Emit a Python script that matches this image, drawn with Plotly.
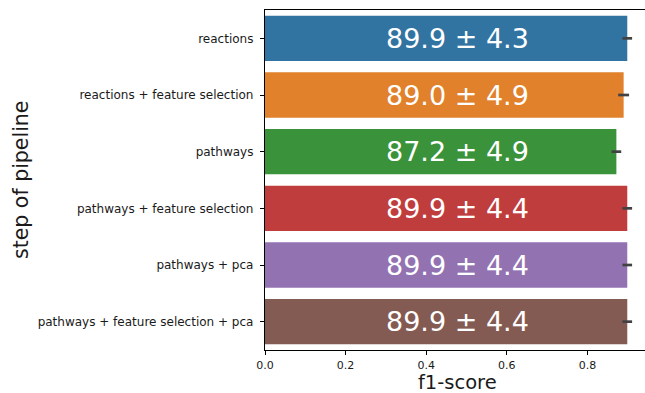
import plotly.graph_objects as go

# Pipeline steps, top to bottom
steps = [
    "reactions",
    "reactions + feature selection",
    "pathways",
    "pathways + feature selection",
    "pathways + pca",
    "pathways + feature selection + pca",
]
# Mean f1-score per step and bootstrapped CI half-width
f1_mean = [0.899, 0.890, 0.872, 0.899, 0.899, 0.899]
f1_ci = [0.012, 0.0135, 0.012, 0.012, 0.012, 0.012]
# Mean ± std (in percent) shown on each bar
bar_labels = ["89.9 ± 4.3", "89.0 ± 4.9", "87.2 ± 4.9", "89.9 ± 4.4", "89.9 ± 4.4", "89.9 ± 4.4"]
# x-axis ticks
x_ticks = [0, 0.2, 0.4, 0.6, 0.8]
x_tick_labels = ["0.0", "0.2", "0.4", "0.6", "0.8"]

colors = ["#3274a1", "#e1812c", "#3a923a", "#c03d3e", "#9372b2", "#845b53"]
FONT = "DejaVu Sans"
TXT = "#1a1a1a"

W, H = 645, 393
L, R, T, B = 265, 0, 10, 43
pw, ph = W - L - R, H - T - B


def px_to_paper(xp, yp):
    return (xp - L) / pw, (H - yp - B) / ph


fig = go.Figure()
fig.add_trace(go.Bar(
    x=f1_mean,
    y=steps,
    orientation="h",
    width=0.8,
    marker=dict(color=colors, line=dict(width=0)),
    error_x=dict(type="data", array=f1_ci, visible=True,
                 color="#424242", thickness=2.7, width=0),
    hoverinfo="skip",
))

for step, lab in zip(steps, bar_labels):
    fig.add_annotation(x=0.478, y=step, xref="x", yref="y", text=lab,
                       showarrow=False, font=dict(family=FONT, size=27, color="white"),
                       xanchor="center", yanchor="middle")

# axis titles
yx, yy = px_to_paper(21, 180)
fig.add_annotation(x=yx, y=yy, xref="paper", yref="paper", text="step of pipeline",
                   showarrow=False, textangle=-90, xanchor="center", yanchor="middle",
                   font=dict(family=FONT, size=20.5, color=TXT))
xx, xy = px_to_paper(457, 382)
fig.add_annotation(x=xx, y=xy, xref="paper", yref="paper", text="f1-score",
                   showarrow=False, xanchor="center", yanchor="middle", borderpad=0,
                   font=dict(family=FONT, size=19.5, color=TXT))

fig.update_layout(
    width=W, height=H,
    margin=dict(l=L, r=R, t=T, b=B),
    paper_bgcolor="white", plot_bgcolor="white",
    showlegend=False,
    font=dict(family=FONT, color=TXT),
    xaxis=dict(
        range=[0, 0.943], tickvals=x_ticks, ticktext=x_tick_labels,
        showgrid=False, zeroline=False,
        showline=True, linecolor="black", linewidth=1.3, mirror=True,
        ticks="outside", ticklen=4, tickwidth=1.2, tickcolor="black",
        tickfont=dict(family=FONT, size=11, color=TXT),
        ticklabelstandoff=1,
    ),
    yaxis=dict(
        categoryorder="array", categoryarray=steps,
        range=[5.5, -0.5],
        showgrid=False, zeroline=False,
        showline=True, linecolor="black", linewidth=1.3,
        ticks="outside", ticklen=4, tickwidth=1.2, tickcolor="black",
        tickfont=dict(family=FONT, size=12, color=TXT),
        ticklabelstandoff=4,
    ),
)

fig.write_html("out.html")
